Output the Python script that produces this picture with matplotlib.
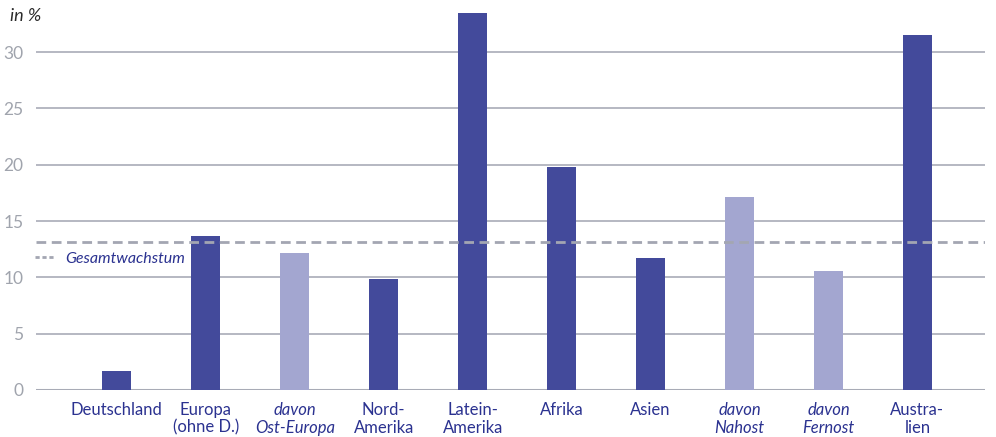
import matplotlib.pyplot as plt
from matplotlib.lines import Line2D

# data
labels = ["Deutschland", "Europa\n(ohne D.)", "davon\nOst-Europa", "Nord-\nAmerika",
          "Latein-\nAmerika", "Afrika", "Asien", "davon\nNahost", "davon\nFernost", "Austra-\nlien"]
values = [1.7, 13.7, 12.2, 9.85, 33.5, 19.8, 11.7, 17.1, 10.55, 31.5]
is_sub = [False, False, True, False, False, False, False, True, True, False]
total_growth = 13.1
y_ticks = [0, 5, 10, 15, 20, 25, 30]

dark = "#434a9b"
light = "#a3a6d0"
navy = "#2b3290"
grey = "#b5b8c2"

plt.rcParams['font.family'] = ['Lato', 'DejaVu Sans']

fig = plt.figure(figsize=(9.96, 4.37), dpi=100)
ax = fig.add_axes([0.036, 0.1076, 0.953, 0.8764])

x = list(range(len(values)))
colors = [light if s else dark for s in is_sub]
ax.bar(x, values, width=0.33, color=colors, zorder=3)

ax.axhline(total_growth, color="#a3a6b2", lw=2, dashes=(3.5, 2), zorder=4)

ax.set_xlim(-0.91, 9.76)
ax.set_ylim(0, 34)
ax.set_yticks(y_ticks)
ax.grid(axis='y', color=grey, lw=1.4, zorder=0)
ax.axhline(0, color="#a8abb6", lw=2.2, zorder=2)
for s in ax.spines.values():
    s.set_visible(False)

ax.tick_params(axis='both', length=0)
ax.tick_params(axis='y', pad=9, labelsize=12.5, labelcolor="#a0a4ad")
ax.tick_params(axis='x', pad=9, labelsize=12, labelcolor=navy)
ax.set_xticks(x)
ax.set_xticklabels(labels, linespacing=1.1)
for lab, s in zip(ax.get_xticklabels(), is_sub):
    if s:
        lab.set_fontstyle('italic')

fig.text(0.01, 0.963, "in %", fontsize=13, style='italic', color="#2a2a2a", va='center')

handle = Line2D([], [], color="#a3a6b2", lw=2, dashes=(1.5, 1.0))
leg = ax.legend([handle], ["Gesamtwachstum"], loc='center left', bbox_to_anchor=(-0.001, 0.343),
                frameon=False, handlelength=1.2, handletextpad=0.7, borderpad=0, borderaxespad=0,
                prop={'style': 'italic', 'size': 11.5})
leg.get_texts()[0].set_color(navy)

fig.savefig("out.png", dpi=100)
